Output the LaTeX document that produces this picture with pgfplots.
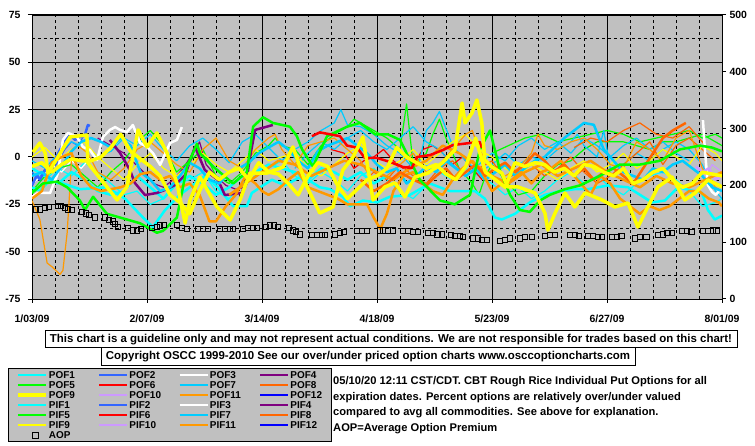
\documentclass[border=0pt]{standalone}
\usepackage{pgfplots}
\pgfplotsset{compat=1.18}
\usepackage{fontspec}
\setmainfont{Liberation Sans}
\definecolor{chartgray}{RGB}{192,192,192}
\definecolor{c1}{RGB}{0,255,255}
\definecolor{c2}{RGB}{51,102,255}
\definecolor{c3}{RGB}{255,255,255}
\definecolor{c4}{RGB}{128,0,128}
\definecolor{c5}{RGB}{0,255,0}
\definecolor{c6}{RGB}{255,0,0}
\definecolor{c7}{RGB}{0,204,255}
\definecolor{c8}{RGB}{255,102,0}
\definecolor{c9}{RGB}{255,255,0}
\definecolor{c10}{RGB}{204,153,255}
\definecolor{c11}{RGB}{255,153,0}
\definecolor{c12}{RGB}{0,0,255}
\newcommand{\lbl}{\bfseries\fontsize{10}{12}\selectfont}
\newcommand{\tlbl}{\bfseries\fontsize{10.5}{12}\selectfont}
\pgfplotsset{
  thk/.style={line width=2.5bp, line join=round},
  thn/.style={line width=1.2bp, line join=round},
}
\begin{document}
\begin{tikzpicture}
\path[use as bounding box, fill=white] (0,0) rectangle (755bp,446bp);
\begin{axis}[
  at={(32bp,147bp)}, anchor=south west,
  scale only axis, width=690bp, height=284bp,
  xmin=0, xmax=210, ymin=-75, ymax=75,
  axis background/.style={fill=chartgray},
  axis line style={black, line width=1bp},
  xtick={0,35,70,105,140,175,210},
  xticklabels={1/03/09,2/07/09,3/14/09,4/18/09,5/23/09,6/27/09,8/01/09},
  minor x tick num=4,
  ytick={-75,-50,-25,0,25,50,75},
  yticklabels={-75,-50,-25,0,25,50,75},
  minor y tick num=1,
  grid=both,
  major grid style={black, line width=0.8bp},
  minor grid style={black, line width=0.8bp, dash pattern=on 3bp off 3bp},
  tick align=outside, major tick length=4bp, minor tick length=0pt,
  xtick pos=lower, ytick pos=left,
  tick style={black, line width=1bp},
  tick label style={font=\tlbl},
  xticklabel style={yshift=-8bp},
  yticklabel style={xshift=-4bp},
  legend columns=4,
  legend style={at={(axis description cs:-0.0348,-0.243)}, anchor=north west,
    draw=black, line width=1bp, fill=chartgray, font=\lbl,
    inner xsep=8bp, inner ysep=1.5bp, row sep=0bp, column sep=0bp,
    cells={anchor=west},
    nodes={inner sep=1bp, minimum height=10bp, text depth=0pt}},
  legend image code/.code={\draw[#1] (0bp,0bp) -- (28bp,0bp);},
]
% ---- thin lines (PIF)
\addplot[c1, thn, forget plot] coordinates {(0,-8)(4,-12)(8,-6)(12,-10)(16,-3)(20,-8)(24,-14)(28,-20)(32,-18)(36,-25)(40,-22)(44,-14)(48,-12)(52,-8)(56,-18)(60,-22)(64,-14)(68,-10)(72,-6)(76,-2)(80,-10)(84,-14)(88,-8)(92,-12)(96,-18)(100,-10)(104,-6)(108,-12)(112,-18)(116,-22)(120,-15)(124,-8)(128,-12)(132,-6)(136,-10)(140,-14)(144,-20)(148,-16)(152,-22)(156,-18)(160,-12)(164,-8)(168,-14)(172,-10)(176,-16)(180,-20)(184,-14)(188,-10)(192,-8)(196,-12)(200,-18)(204,-26)(208,-24)(210,-22)};
\addplot[c2, thn, forget plot] coordinates {(0,-8)(2,-12)(4,-6)(6,-8)(8,-2)(10,4)(12,8)(14,6)(16,12)};
\addplot[c3, thn, forget plot] coordinates {(0,-14)(3,-10)(6,-4)(9,-8)(12,-2)(15,-6)(18,0)};
\addplot[c4, thn, forget plot] coordinates {(20,10)(22,8)(25,5)(28,2)(31,-3)(34,-8)(37,-14)(40,-16)(43,-12)(46,-6)(49,2)(51,8)(53,-4)(56,-10)(59,-15)(62,-17)(65,-16)(67,-8)};
\addplot[c5, thn, forget plot] coordinates {(0,-18)(4,-10)(8,-6)(12,-4)(16,-10)(20,-16)(24,-8)(28,-2)(32,8)(36,14)(40,6)(44,-8)(48,-2)(52,4)(56,-10)(60,-14)(64,-8)(68,2)(72,6)(74,10)(76,6)(80,4)(84,-4)(88,6)(92,12)(96,16)(98,20)(100,18)(104,14)(108,10)(112,4)(114,28)(116,-4)(120,2)(122,12)(124,20)(126,10)(130,-6)(134,-14)(136,-20)(138,-10)(140,-4)(144,-12)(148,-20)(152,-18)(156,-10)(160,-4)(164,-2)(168,4)(172,8)(176,8)(180,8)(184,6)(188,4)(192,8)(196,8)(200,10)(204,12)(208,8)(210,6)};
\addplot[c5, thn, forget plot] coordinates {(140,2)(145,6)(150,10)(155,12)(160,8)(165,10)(170,12)(175,14)(180,12)(185,8)(190,10)(195,12)(200,14)(204,10)(208,12)(210,10)};
\addplot[c6, thn, forget plot] coordinates {(91,4)(95,2)(98,-6)(101,-2)(104,0)(107,4)(110,-2)(113,-6)(116,-4)(119,4)(122,6)(125,2)(128,-4)(131,0)(134,-6)(137,-12)};
\addplot[c7, thn, forget plot] coordinates {(0,-2)(4,-6)(8,2)(12,8)(16,5)(20,0)(24,3)(28,10)(32,6)(36,12)(40,4)(44,-2)(48,6)(52,10)(56,4)(60,-3)(64,8)(68,12)(72,5)(76,-2)(80,4)(84,8)(88,14)(92,18)(94,25)(96,17)(100,16)(104,12)(108,6)(112,2)(116,-6)(118,-2)(120,14)(122,18)(124,24)(126,15)(128,6)(132,-2)(136,-8)(140,-4)(144,2)(148,-4)(152,0)(156,-2)(160,4)(164,8)(166,12)(168,6)(172,0)(174,14)(176,-6)(180,-4)(184,2)(188,-2)(192,4)(196,8)(200,4)(204,-4)(206,-12)(208,-18)(210,-22)};
\addplot[c7, thn, forget plot] coordinates {(80,-6)(84,2)(88,8)(92,4)(96,10)(100,14)(104,8)(108,4)(112,10)(116,16)(120,8)(124,4)(128,-4)(132,-10)(136,-4)(140,2)(144,-2)(148,6)(152,10)(156,4)(160,8)(164,2)(168,10)(172,6)(176,0)(180,6)(184,10)(188,4)(192,8)(196,2)(200,-2)};
\addplot[c8, thn, forget plot] coordinates {(100,-15)(104,-8)(108,-12)(112,-4)(116,-10)(120,-14)(124,-6)(128,-2)(132,-10)(136,-6)(140,-2)(144,-12)(148,-8)(152,-4)(156,-10)(160,-6)(164,0)(168,-8)(172,-14)(176,-10)(180,-4)(184,2)(188,8)(192,-4)(196,6)(200,10)(204,4)(208,-2)};
\addplot[c8, thn, forget plot] coordinates {(165,5)(170,10)(175,8)(180,14)(185,18)(190,12)(195,10)(200,16)(205,6)};
\addplot[c9, thn, forget plot] coordinates {(0,0)(4,5)(8,-2)(12,4)(16,8)(20,0)(24,-6)(28,-12)(32,-4)(36,2)(40,-6)(44,-10)(48,-4)(52,2)(56,-4)(60,-8)(64,-2)(68,4)(72,-2)(76,0)(80,2)(84,-6)(88,-10)(92,-4)(96,2)(100,6)(104,-2)(108,-6)(112,-2)(116,4)(120,-4)(124,2)(128,8)(132,12)(136,4)(140,0)(144,-6)(148,-10)(152,-4)(156,-8)(160,-12)(164,-6)(168,-2)(172,-8)(176,-4)(180,2)(184,-6)(188,-2)(192,4)(196,0)(200,-4)(204,6)(208,2)(210,-2)};
\addplot[c10, thn, forget plot] coordinates {(203,-2)(205,-10)(207,-4)(210,-8)};
\addplot[c11, thn, forget plot] coordinates {(0,-23)(2.4,-33)(4.6,-56)(6.1,-58)(8.5,-62)(9.4,-60)(10.7,-40)(11.3,-23)(12.2,4)(14,6)(17,2)(20,-8)(24,-12)(28,-6)(32,4)(36,8)(40,2)(44,-4)(48,-8)(52,4)(56,10)(60,-2)(64,-6)(68,4)(72,10)(74,12)(76,4)(80,-4)(84,6)(88,8)(92,10)(96,4)(100,-2)(104,-14)(108,-10)(112,-4)(116,2)(120,-8)(124,-4)(128,4)(132,12)(134,14)(136,4)(140,-6)(144,-10)(148,-6)(152,2)(154,12)(156,6)(160,4)(164,8)(168,10)(172,4)(176,-4)(180,-6)(184,8)(188,4)(192,-2)(196,10)(198,12)(200,14)(204,-6)(208,-16)(210,-18)};
% ---- thick lines (POF)
\addplot[c1, thk, forget plot] coordinates {(0,-16)(2.4,-18)(5.5,-12)(9.4,-14)(14.6,-17)(22.8,-16)(28.3,-22)(33.8,-32)(36.8,-37)(40.5,-28)(45,-20)(52.6,-10)(56.6,-16)(61.2,-26)(65.4,-26)(66.9,-19)(73,-12)(77,-15)(82.2,-10)(87.6,-16)(90.7,-17)(94.6,-21)(96.8,-26)(100.7,-23)(105,-24)(108.9,-21)(115,-20)(121.1,-14)(127.2,-18)(134.8,-18)(137.8,-22)(140.9,-32)(143,-33)(147,-30)(151.5,-24)(156.1,-20)(160.7,-18)(165.2,-17)(169.2,-17)(175.3,-15)(181.4,-16)(188.7,-24)(192.6,-23)(196.6,-16)(203.9,-19)(205.7,-28)(207.8,-33)(210,-31)};
\addplot[c1, thk, forget plot] coordinates {(0,-6)(4,-10)(8,-14)(12,-8)(16,-12)(20,-18)(24,-20)(28,-18)(32,-10)(36,-16)(40,-22)(44,-14)(48,-10)(52,-14)(56,-20)(60,-16)(64,-10)(68,-8)(72,-4)(76,-6)(80,-8)(84,-12)(88,-6)(92,-8)(96,-12)(100,-8)(104,-14)(108,-10)};
\addplot[c2, thk, forget plot] coordinates {(0,-15)(1.5,-9.5)(2.4,-12)(4,-6.9)(6.1,-4.2)(8.5,3.7)(10,9)(11.6,11.6)(13.1,9)(14.6,10.6)(16.1,11.6)(17,16.9)(17.6,16.4)};
\addplot[c3, thk, forget plot] coordinates {(0,-21)(1.8,-19)(5.5,-19)(7.9,-8.5)(9.4,9)(11,12.7)(13.7,10.6)(15.5,5.3)(17.6,3.7)(19.8,-1.6)(21.6,10.6)(23.7,14.3)(25.3,15.8)(26.8,14.3)(28.9,13.2)(30.7,16.9)(32.9,7.4)(35,5.3)(36.8,2.1)(39,-4.2)(42,7.4)(44.1,9)(45.6,15.8)};
\addplot[c3, thk, forget plot] coordinates {(204.2,19.5)(204.8,3.7)(205.7,-14.8)(207,-18.5)(208.1,-20)(209.4,-17.4)};
\addplot[c10, thk, forget plot] coordinates {(202,-5)(204,-8)(206,-6)(208,-12)(210,-10)};
\addplot[c4, thk, forget plot] coordinates {(23.7,9)(26.8,2.1)(29.8,-6.9)(31.3,-13.7)(34.4,-20.1)(38,-19)(40.5,-17.4)(43.5,-14.8)(46.6,-9.5)(49.6,5.3)(52.6,-6.9)(56.6,-12.1)(58.7,-20.1)(63.9,-19)(65.4,-11.1)(66.3,-0.5)(67.9,14.3)(70,15.3)(73.3,16.9)};
\addplot[c7, thk, forget plot] coordinates {(0,-10)(3,-8)(6,-12)(9,-5)(12,3)(15,8)(18,10)(21,8)(24,5)(27,10)(30,6)(33,-8)(36,-12)(39,-18)(42,-16)(45,-10)(48,-3)(51,-6)(54,-12)(57,-14)(60,-8)(63,-6)(66,-3)(69,2)(72,5)(75,8)(78,4)(81,-2)(84,-6)(87,3)(90,6)(93,8)(96,10)(99,6)(102,2)(105,-4)(108,-8)(111,-6)(114,-14)(117,-10)(120,-5)(123,-8)(126,-2)(129,-6)(132,-10)(135,-6)(138,-12)(141,-8)(144,-4)(147,-10)(150,-6)(153,-2)(156,0)(159,5)(162,10)(165,14)(168,18)(171,17)(174,4)(177,-2)(180,-8)(183,-10)(186,-12)(189,-6)(192,-8)(195,-4)(198,-2)(201,-6)(204,-10)(207,-16)(210,-18)};
\addplot[c11, thk, forget plot] coordinates {(0,-22)(3,-18)(6,-3)(9,0)(12,2)(15,-10)(18,-16)(21,-18)(24,-17)(27,-16)(30,-14)(33,-9)(36,-8)(39,-12)(42,-10)(45,-16)(48,-14)(51,-20)(54,-34)(56,-34)(59,-26)(62,-20)(65,-10)(68,-14)(70,-18)(72,-20)(75,-17)(78,-12)(81,-8)(84,-16)(87,-18)(90,-20)(93,-22)(96,-25)(99,-25)(102,-25)(104,-32)(106,-38)(108,-30)(110,-18)(113,-10)(116,-8)(119,-14)(122,-18)(125,-20)(128,-12)(131,-6)(134,-2)(137,-8)(140,-18)(143,-14)(146,-12)(149,-8)(152,-14)(155,-8)(158,-6)(161,-2)(164,-8)(167,-14)(170,-20)(173,-10)(176,-14)(179,-22)(182,-26)(185,-30)(188,-26)(191,-28)(194,-26)(197,-22)(200,-18)(203,-18)(206,-22)(209,-24)(210,-26)};
\addplot[c11, thk, forget plot] coordinates {(60,-20)(65,-14)(70,-8)(75,-2)(80,-4)(85,-10)(90,-6)(95,-2)(100,-4)(105,-8)(110,-12)(115,-6)(120,-2)(125,6)(130,2)(135,-4)(140,-10)(145,-14)(150,-8)(155,-4)(160,-10)(165,-6)(170,-2)(175,-8)(180,-12)(185,-16)(190,-10)(195,-14)(200,-16)(205,-12)(210,-8)};
\addplot[c8, thk, forget plot] coordinates {(100,-12)(104,-18)(108,-14)(112,-8)(116,-12)(120,-15)(123,-10)(126,-6)(129,-12)(132,-8)(135,-4)(138,-10)(141,-6)(144,-3)(147,-8)(150,-4)(153,2)(156,-2)(159,-8)(162,-4)(165,-10)(168,-6)(171,-12)(174,-8)(177,-6)(180,-10)(183,-14)(186,-6)(189,2)(192,10)(195,14)(198,17)(199,18)};
\addplot[c5, thk, forget plot] coordinates {(0,-19)(3.3,-14)(7.6,-13)(10.7,-16)(14.6,-23)(16.1,-28)(18.6,-21)(22.8,-30)(32.9,-35)(38,-40)(39.9,-39)(44.1,-32)(47.2,-5)(50.2,7)(51.1,2)(55.1,-5)(61.2,-14)(65.4,-8)(67.3,16)(70.3,21)(73.3,18)(78.5,16)(80.6,11)(82.2,4)(85.5,-5)(89.8,11)(95.9,16)(99.8,18)(104.4,12)(108.3,12)(112,9)(118,-12)(124.2,-23)(128.7,-25)(133.3,-20)(136.3,4)(139.4,14)(142.4,-7)(145.5,-20)(148.5,-28)(151.5,-29)(154.6,-23)(157.6,-20)(162.2,-17)(166.8,-15)(172.8,-10)(178.9,-4)(185,-4)(191.1,-2)(197.2,4)(203.3,6)(206.9,5)(210,3)};
\addplot[c6, thk, forget plot] coordinates {(85.2,11)(87.6,13)(90.7,12)(93.7,11)(95.9,6)(98.9,5)(101.3,-0.5)(105,-0.5)(108.9,-2.6)(112.9,-5.3)(115.6,-5.8)(117.2,0)(121.1,1)(125.1,3.7)(128.1,6.3)(133.3,7.4)(136.3,7.9)(136.9,4.8)};
\addplot[c9, line width=3.5bp, line join=round, forget plot] coordinates {(0,-5)(3,-3)(6,-8)(9,-4)(12,-1)(15,-2)(18,-2)(21,0)(24,5)(27,12)(30,3)(33,-1)(36,-5)(39,-10)(42,-20)(45,-24)(48,-30)(51,-18)(54,-8)(57,-12)(60,-8)(63,-6)(66,-12)(69,-3)(72,-8)(75,-9)(78,-14)(81,-20)(84,-10)(87,-3)(90,-5)(93,-15)(96,-22)(99,-17)(102,-12)(105,-10)(108,-6)(111,5)(114,0)(117,-3)(120,-6)(123,-4)(126,-9)(129,-12)(132,-5)(135,10)(138,-8)(141,-12)(144,-16)(147,-3)(150,-5)(153,-3)(156,-4)(159,-8)(162,-6)(165,-10)(168,-4)(171,-5)(174,-8)(177,-10)(180,-6)(183,-14)(186,-12)(189,-8)(192,-6)(195,-12)(198,-16)(201,-14)(204,-8)(207,-9)(210,-10)};
\addplot[c9, line width=3.5bp, line join=round, forget plot] coordinates {(0.3,2.6)(2.4,7.4)(4,2.1)(4.9,-8.5)(11.6,10.6)(16.7,11.6)(17,-3.2)(22.8,-15.8)(25.9,-22.7)(28.9,-15.8)(32.3,14.3)(35,5.3)(38,12.7)(41.1,2.1)(44.1,-13.7)(46.6,-34.9)(48.1,-22.7)(51.1,-10.6)(56.3,-26.4)(60.3,-33.3)(63.3,-22.7)(66.3,-8.5)(71.5,-8.5)(76.4,-5.3)(79.4,5.3)(83.7,-15.8)(87.6,-29.6)(91.6,-26.4)(94.6,-6.9)(97.7,0)(100.7,10.6)(103.8,-22.7)(107.4,-15.8)(110.5,-13.7)(113.5,-21.1)(116.5,-10.6)(120.5,-8.5)(124.8,-3.2)(128.7,3.7)(130.9,28.5)(131.8,18)(133.9,23.2)(135.4,30.1)(136.9,18)(137.8,-1.6)(140,-5.3)(143,-8.5)(144.8,-15.8)(147.9,-15.8)(153.1,-19)(156.1,-29.6)(157,-38.6)(159.2,-29.6)(162.2,-19)(165.2,-26.4)(168.3,-19)(173.5,-22.7)(177.4,-26.4)(181.4,-24.3)(184.4,-37)(186.5,-29.6)(190.5,-15.8)(194.8,-10.6)(198.7,-22.7)(201.8,-19)(205.7,-12.1)(210,-15.8)};
% ---- legend
\addlegendimage{c1, line width=2.5bp}\addlegendentry{\makebox[48bp][l]{POF1}}
\addlegendimage{c2, line width=2.5bp}\addlegendentry{\makebox[48bp][l]{POF2}}
\addlegendimage{c3, line width=2.5bp}\addlegendentry{\makebox[48bp][l]{POF3}}
\addlegendimage{c4, line width=2.5bp}\addlegendentry{\makebox[32bp][l]{POF4}}
\addlegendimage{c5, line width=2.5bp}\addlegendentry{POF5}
\addlegendimage{c6, line width=2.5bp}\addlegendentry{POF6}
\addlegendimage{c7, line width=2.5bp}\addlegendentry{POF7}
\addlegendimage{c8, line width=2.5bp}\addlegendentry{POF8}
\addlegendimage{c9, line width=3.5bp}\addlegendentry{POF9}
\addlegendimage{c10, line width=2.5bp}\addlegendentry{POF10}
\addlegendimage{c11, line width=2.5bp}\addlegendentry{POF11}
\addlegendimage{c12, line width=2.5bp}\addlegendentry{POF12}
\addlegendimage{c1, line width=1.6bp}\addlegendentry{PIF1}
\addlegendimage{c2, line width=1.6bp}\addlegendentry{PIF2}
\addlegendimage{c3, line width=1.6bp}\addlegendentry{PIF3}
\addlegendimage{c4, line width=1.6bp}\addlegendentry{PIF4}
\addlegendimage{c5, line width=1.6bp}\addlegendentry{PIF5}
\addlegendimage{c6, line width=1.6bp}\addlegendentry{PIF6}
\addlegendimage{c7, line width=1.6bp}\addlegendentry{PIF7}
\addlegendimage{c8, line width=1.6bp}\addlegendentry{PIF8}
\addlegendimage{c9, line width=1.6bp}\addlegendentry{PIF9}
\addlegendimage{c10, line width=1.6bp}\addlegendentry{PIF10}
\addlegendimage{c11, line width=1.6bp}\addlegendentry{PIF11}
\addlegendimage{c12, line width=1.6bp}\addlegendentry{PIF12}
\addlegendimage{legend image code/.code={\path (0bp,0bp) (28bp,0bp); \node[draw=black, line width=1bp, minimum size=6bp, inner sep=0pt] at (14bp,0bp) {};}}\addlegendentry{AOP}
\end{axis}
\begin{axis}[
  at={(32bp,147bp)}, anchor=south west,
  scale only axis, width=690bp, height=284bp,
  xmin=0, xmax=210, ymin=0, ymax=500,
  axis x line=none, axis y line*=right,
  axis line style={black, line width=1bp},
  ytick={0,100,200,300,400,500},
  yticklabels={0,100,200,300,400,500},
  tick align=outside, major tick length=4bp,
  tick style={black, line width=1bp},
  tick label style={font=\tlbl},
]
\addplot[only marks, mark=square, mark size=2.8bp, mark options={black, line width=1bp}] coordinates {(1.2,158)(2.4,158)(3.9,160)(5.2,162)(7.9,164)(8.8,164)(10,160)(11,158)(12.2,157)(15.2,153)(16.4,150)(17.3,148)(19.2,144)(22.2,143)(23.4,139)(24.6,136)(25.3,132)(26.2,127)(29.2,125)(30.7,121)(32,121)(33.2,123)(36.5,125)(38,127)(39,129)(40.2,130)(44.1,130)(45.6,125)(47.2,123)(50.5,123)(52,123)(53.6,123)(57.2,123)(58.7,123)(60.3,123)(61.2,123)(64.2,123)(65.7,125)(67.3,125)(68.5,125)(71.2,127)(72.4,129)(73.6,129)(74.9,127)(78.2,125)(79.4,121)(80.3,118)(81.6,114)(85.2,113)(86.7,113)(88.2,113)(89.2,113)(92.2,114)(93.7,116)(94.9,118)(98.9,120)(100.4,120)(101.9,120)(105.9,121)(106.8,121)(108.3,121)(109.9,121)(112.9,120)(114.4,120)(115.9,118)(117.5,118)(120.5,116)(122,116)(123.5,114)(124.8,114)(127.5,113)(128.7,111)(130.2,111)(131.2,109)(134.2,107)(135.7,106)(136.9,104)(138.5,104)(142.4,102)(143.9,104)(145.5,106)(148.5,107)(150,109)(152.2,109)(156.1,111)(157.6,113)(159.2,113)(163.7,113)(165.2,113)(166.5,111)(169.2,111)(170.7,111)(172.2,109)(173.5,109)(176.5,109)(178,109)(179.5,111)(183.5,107)(185,109)(187.1,109)(190.5,113)(192,114)(193.5,116)(194.8,116)(197.8,120)(199.3,120)(200.8,118)(204.2,120)(205.7,120)(207.2,121)(208.4,121)};
\end{axis}
% ---- notes below the chart
\node[draw=black, line width=1bp, fill=white, minimum width=692bp, minimum height=17bp, inner sep=0pt, font=\bfseries\fontsize{11.5}{13}\selectfont] at (391bp,106.5bp) {This chart is a guideline only and may not represent actual conditions. We are not responsible for trades based on this chart!};
\node[draw=black, line width=1bp, fill=white, minimum width=534bp, minimum height=18bp, inner sep=0pt, font=\bfseries\fontsize{11.5}{13}\selectfont] at (368bp,89bp) {Copyright OSCC 1999-2010 See our over/under priced option charts www.osccoptioncharts.com};
\node[anchor=north west, inner sep=0pt, align=left, font=\bfseries\fontsize{11.2}{15.5}\selectfont] at (333bp,69.5bp) {05/10/20 12:11 CST/CDT. CBT Rough Rice Individual Put Options for all\\expiration dates. Percent options are relatively over/under valued\\compared to avg all commodities. See above for explanation.\\AOP=Average Option Premium};
\end{tikzpicture}
\end{document}
